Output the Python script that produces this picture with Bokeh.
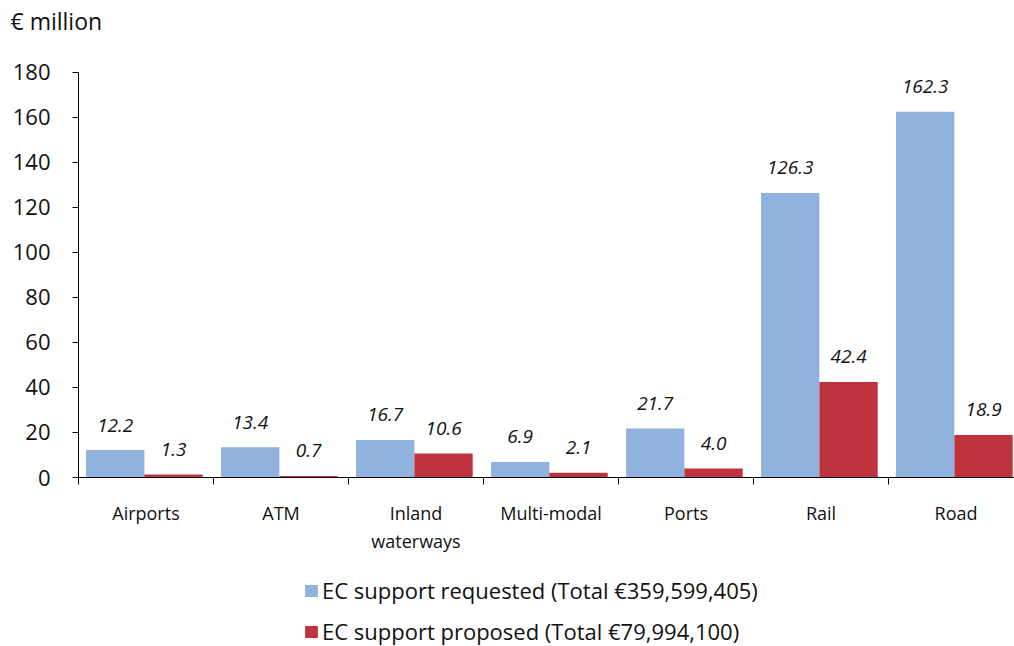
from bokeh.plotting import figure
from bokeh.models import (ColumnDataSource, FixedTicker, LinearAxis, Label,
                          Legend, LegendItem, Range1d)
from bokeh.core.properties import value
from bokeh.embed import file_html
from bokeh.resources import INLINE

categories = ["Airports", "ATM", "Inland\nwaterways", "Multi-modal", "Ports", "Rail", "Road"]
requested = [12.2, 13.4, 16.7, 6.9, 21.7, 126.3, 162.3]
proposed = [1.3, 0.7, 10.6, 2.1, 4.0, 42.4, 18.9]
y_ticks = [0, 20, 40, 60, 80, 100, 120, 140, 160, 180]
series_names = ["EC support requested (Total €359,599,405)",
                "EC support proposed (Total €79,994,100)"]
unit_label = "€ million"

FONT = "Open Sans"
BLUE = "#8FB2DE"
RED = "#BF333F"
TXT = "#111111"

W, H = 1014, 646
AX_LEFT, AX_TOP, AX_BOTTOM = 78, 71.5, 477   # pixel layout of the axes box
PX_CAT = 135                                  # pixels per category
n = len(categories)
y_max = y_ticks[-1]
px_y = (AX_BOTTOM - AX_TOP) / y_max

centers = [i + 0.5 for i in range(n)]
bounds_ticks = list(range(n + 1))
bw = 0.432
shift = -0.012

src_req = ColumnDataSource(dict(
    x=[c - bw / 2 + shift for c in centers], top=requested,
    lab=[f"{v:.1f}" for v in requested]))
src_pro = ColumnDataSource(dict(
    x=[c + bw / 2 + shift for c in centers], top=proposed,
    lab=[f"{v:.1f}" for v in proposed]))

p = figure(width=W, height=H, output_backend="svg", toolbar_location=None,
           x_range=Range1d(-AX_LEFT / PX_CAT, (W - AX_LEFT) / PX_CAT),
           y_range=Range1d(-(H - AX_BOTTOM) / px_y, y_max + AX_TOP / px_y),
           min_border=0, x_axis_type=None, y_axis_type=None)
p.outline_line_color = None
p.grid.visible = False

r1 = p.vbar(x="x", top="top", width=bw, source=src_req, fill_color=BLUE, line_color=None)
r2 = p.vbar(x="x", top="top", width=bw, source=src_pro, fill_color=RED, line_color=None)

for src in (src_req, src_pro):
    p.text(x="x", y="top", text="lab", source=src, text_align="center",
           text_baseline="middle", y_offset=-25, text_font=value(FONT),
           text_font_style="italic", text_font_size="19px", text_color=TXT)

# y axis
yax = LinearAxis(fixed_location=0, bounds=(0, y_max), ticker=FixedTicker(ticks=y_ticks))
yax.axis_line_color = "black"
yax.major_tick_line_color = "black"
yax.major_tick_out = 6
yax.major_tick_in = 0
yax.minor_tick_line_color = None
yax.major_label_text_font = FONT
yax.major_label_text_font_size = "22px"
yax.major_label_text_color = TXT
yax.major_label_standoff = 22
p.add_layout(yax, "left")

# x axis with boundary ticks (no labels)
xax1 = LinearAxis(fixed_location=0, bounds=(0, n), ticker=FixedTicker(ticks=bounds_ticks))
xax1.axis_line_color = "black"
xax1.major_tick_line_color = "black"
xax1.major_tick_out = 7
xax1.major_tick_in = 0
xax1.minor_tick_line_color = None
xax1.major_label_overrides = {t: "" for t in bounds_ticks}
xax1.major_label_standoff = 0
p.add_layout(xax1, "below")

# x axis with category labels
xax2 = LinearAxis(fixed_location=0, ticker=FixedTicker(ticks=centers))
xax2.axis_line_color = None
xax2.major_tick_line_color = None
xax2.minor_tick_line_color = None
xax2.major_label_overrides = {c: lab for c, lab in zip(centers, categories)}
xax2.major_label_text_font = FONT
xax2.major_label_text_font_size = "18px"
xax2.major_label_text_color = TXT
xax2.major_label_standoff = 17
p.add_layout(xax2, "below")

p.add_layout(Label(x=0, y=y_max, x_offset=-68, y_offset=51, text=unit_label,
                   text_font=FONT, text_font_size="23px", text_color=TXT,
                   text_baseline="alphabetic"))

legend = Legend(items=[LegendItem(label=series_names[0], renderers=[r1]),
                       LegendItem(label=series_names[1], renderers=[r2])],
                location=(303, 0))
legend.label_text_font = FONT
legend.label_text_font_size = "22px"
legend.label_text_color = TXT
legend.glyph_width = 16
legend.glyph_height = 15
legend.label_height = 20
legend.label_standoff = 3
legend.spacing = 11
legend.padding = 0
legend.margin = 0
legend.border_line_color = None
legend.background_fill_alpha = 0
p.add_layout(legend, "center")

open("out.html", "w").write(file_html(p, INLINE))
